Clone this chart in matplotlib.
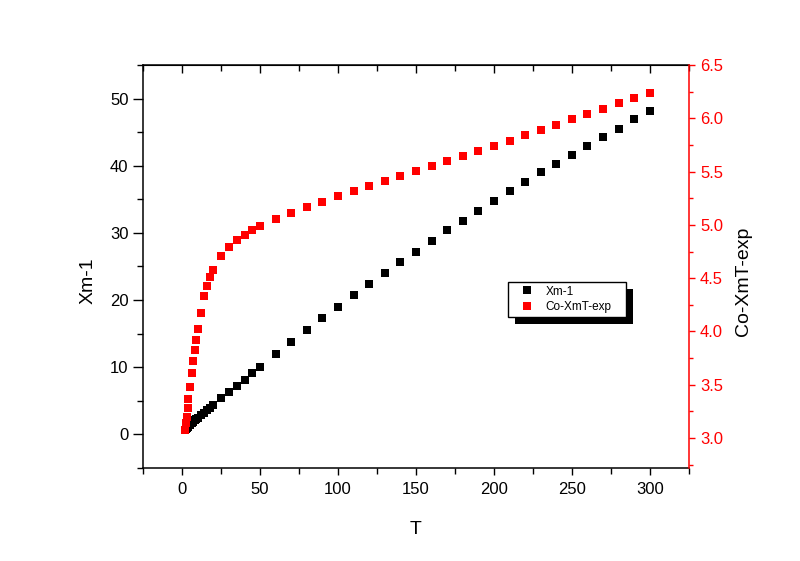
import matplotlib
matplotlib.use('Agg')
import matplotlib.pyplot as plt
from matplotlib.patches import Rectangle
from matplotlib.transforms import IdentityTransform
from matplotlib.ticker import MultipleLocator, FormatStrFormatter

plt.rcParams['font.family'] = ['Liberation Sans', 'DejaVu Sans']

# temperature points (K)
T = [2, 2.5, 3, 3.5, 4, 5, 6, 7, 8, 9, 10, 12, 14, 16, 18, 20, 25, 30, 35, 40, 45, 50,
     60, 70, 80, 90, 100, 110, 120, 130, 140, 150, 160, 170, 180, 190, 200,
     210, 220, 230, 240, 250, 260, 270, 280, 290, 300]

# inverse susceptibility (left axis)
xm_inv = [0.65, 0.80, 0.94, 1.07, 1.19, 1.44, 1.66, 1.88, 2.09, 2.30, 2.49, 2.88, 3.23,
          3.61, 3.99, 4.40, 5.35, 6.30, 7.25, 8.16, 9.13, 10.06,
          11.94, 13.7, 15.55, 17.3, 19.0, 20.7, 22.4, 24.0, 25.6, 27.2, 28.8, 30.4,
          31.8, 33.3, 34.8, 36.2, 37.6, 39.0, 40.3, 41.6, 42.9, 44.3, 45.5, 46.9, 48.1]

# chi*T (right axis)
xmt = [3.08, 3.14, 3.20, 3.28, 3.37, 3.48, 3.61, 3.72, 3.83, 3.92, 4.02, 4.17, 4.33,
       4.43, 4.51, 4.58, 4.71, 4.79, 4.86, 4.91, 4.95, 4.99,
       5.057, 5.113, 5.166, 5.219, 5.27, 5.319, 5.363, 5.413, 5.46, 5.507, 5.553, 5.60,
       5.647, 5.697, 5.744, 5.79, 5.84, 5.89, 5.94, 5.99, 6.04, 6.09, 6.14, 6.19, 6.235]

red = '#ff0000'
fig = plt.figure(figsize=(8, 5.61), dpi=100)
ax = fig.add_axes([0.179, 0.166, 0.682, 0.718])
ax.patch.set_alpha(0)
ax2 = ax.twinx()

ax.plot(T, xm_inv, 's', color='black', markersize=5.3, markeredgewidth=0, label='Xm-1')
ax2.plot(T, xmt, 's', color=red, markersize=5.3, markeredgewidth=0, label='Co-XmT-exp')

ax.set_xlim(-25, 325)
ax.set_ylim(-5, 55)
ax2.set_ylim(2.72, 6.5)

ax.xaxis.set_major_locator(MultipleLocator(50))
ax.xaxis.set_minor_locator(MultipleLocator(25))
ax.yaxis.set_major_locator(MultipleLocator(10))
ax.yaxis.set_minor_locator(MultipleLocator(5))
ax2.yaxis.set_major_locator(MultipleLocator(0.5))
ax2.yaxis.set_minor_locator(MultipleLocator(0.25))
ax2.yaxis.set_major_formatter(FormatStrFormatter('%.1f'))

ax.tick_params(axis='x', which='major', direction='out', length=5, width=1, labelsize=12, pad=5)
ax.tick_params(axis='x', which='minor', direction='out', length=4, width=1)
ax.tick_params(axis='y', which='major', direction='out', length=7, width=1, labelsize=12)
ax.tick_params(axis='y', which='minor', direction='out', length=4, width=1)
ax2.tick_params(axis='y', which='major', direction='out', length=4.5, width=1,
                labelsize=12, colors=red, labelcolor=red)
ax2.tick_params(axis='y', which='minor', direction='out', length=3, width=1, colors=red)

for s in ['left', 'bottom', 'top']:
    ax.spines[s].set_linewidth(1.1)
ax.spines['right'].set_visible(False)
ax2.spines['left'].set_visible(False)
ax2.spines['top'].set_visible(False)
ax2.spines['bottom'].set_visible(False)
ax2.spines['right'].set_color(red)
ax2.spines['right'].set_linewidth(1.1)

# top ticks point inward, no labels
top = ax.secondary_xaxis('top')
top.xaxis.set_major_locator(MultipleLocator(50))
top.xaxis.set_minor_locator(MultipleLocator(25))
top.tick_params(which='major', direction='in', length=6, width=1, labeltop=False)
top.tick_params(which='minor', direction='in', length=4, width=1)

ax.set_xlabel('T', fontsize=14)
ax.set_ylabel('Xm-1', fontsize=14)
ax2.set_ylabel('Co-XmT-exp', fontsize=14)
ax.xaxis.set_label_coords(0.5, -0.131)
ax.yaxis.set_label_coords(-0.085, 0.464)
ax2.yaxis.set_label_coords(1.085, 0.464)

h1, l1 = ax.get_legend_handles_labels()
h2, l2 = ax2.get_legend_handles_labels()
leg = ax2.legend(h1 + h2, l1 + l2, loc='upper left', bbox_to_anchor=(0.635, 0.4973),
                 bbox_transform=fig.transFigure, borderaxespad=0, fontsize=8.5,
                 frameon=False, borderpad=0.3,
                 handlelength=2.6, handletextpad=0.3, labelspacing=0.3,
                 markerscale=1.2)

# Origin-style box: white frame with a solid black drop shadow
fig.canvas.draw()
bb = leg.get_window_extent()
w = bb.width + 11
shadow = Rectangle((bb.x0 + 7, bb.y0 - 7), w, bb.height, facecolor='black',
                   edgecolor='none', transform=IdentityTransform(), zorder=4.8)
box = Rectangle((bb.x0, bb.y0), w, bb.height, facecolor='white', edgecolor='black',
                linewidth=1, transform=IdentityTransform(), zorder=4.9)
ax2.add_artist(shadow)
ax2.add_artist(box)

fig.savefig('out.png', dpi=100, facecolor='white')
